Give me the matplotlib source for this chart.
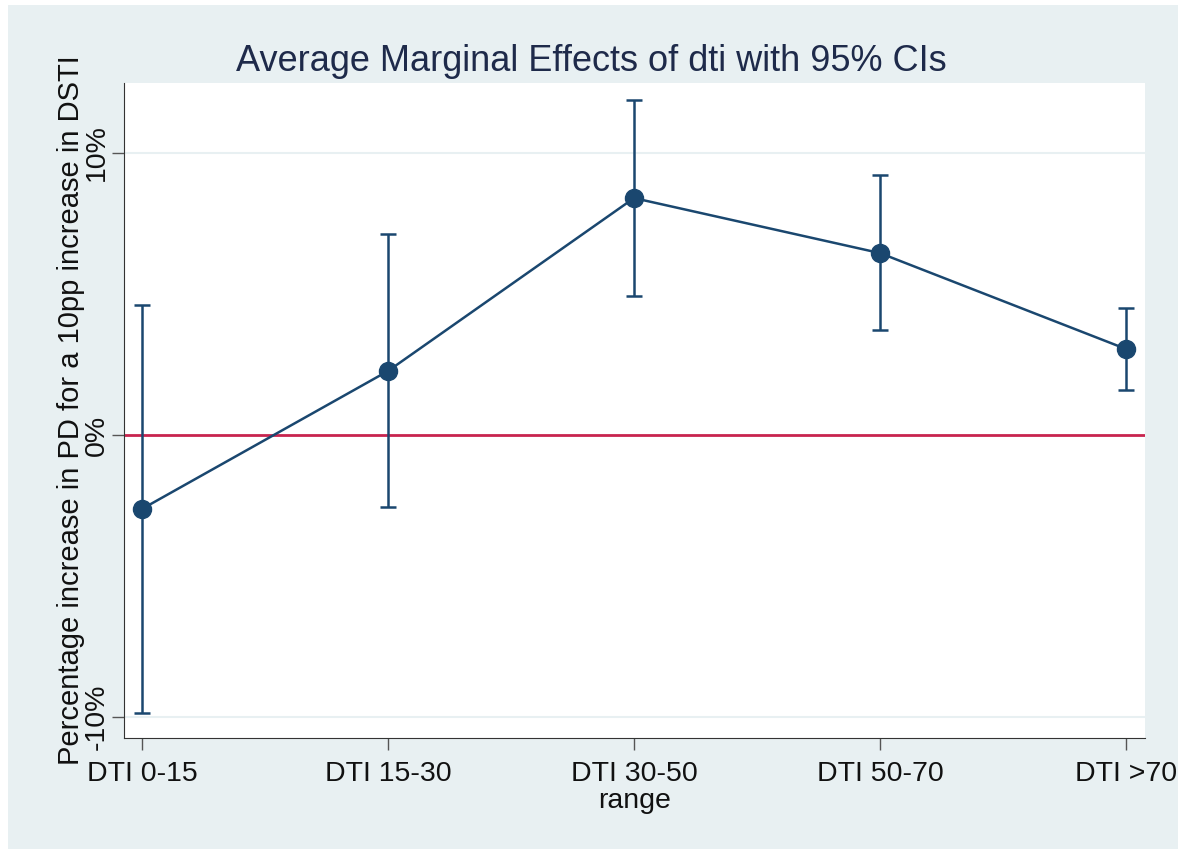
import matplotlib.pyplot as plt
import matplotlib.patches as mpatches
import numpy as np

plt.rcParams['font.family'] = ['Liberation Sans', 'DejaVu Sans']

categories = ["DTI 0-15", "DTI 15-30", "DTI 30-50", "DTI 50-70", "DTI >70"]
effect = [-2.62, 2.27, 8.40, 6.45, 3.05]
ci_low = [-9.86, -2.55, 4.93, 3.72, 1.60]
ci_high = [4.60, 7.13, 11.88, 9.22, 4.50]

navy = "#1a476f"
bg = "#e8f0f2"

fig = plt.figure(figsize=(11.78, 8.49), dpi=100)
fig.patch.set_facecolor("white")
fig.patches.append(mpatches.Rectangle((8/1178, 0), 1, 1 - 5/849, transform=fig.transFigure,
                                      facecolor=bg, edgecolor="none", zorder=-10))
ax = fig.add_axes([124/1178, 1 - 738/849, (1145 - 124)/1178, (738 - 83)/849])
ax.set_facecolor("white")

x = np.arange(len(categories))
y = np.array(effect)
err = [y - np.array(ci_low), np.array(ci_high) - y]

for v in [10, -10]:
    ax.axhline(v, color=bg, lw=1.5, zorder=1)
ax.axhline(0, color="#c8244e", lw=2, zorder=2)
ax.errorbar(x, y, yerr=err, fmt="none", ecolor=navy, elinewidth=1.8, capsize=6, capthick=1.8, zorder=3)
ax.plot(x, y, "-o", color=navy, lw=1.8, markersize=13, zorder=4)

ax.set_xlim(-0.073, 4.077)
ax.set_ylim(-10.74, 12.48)
ax.set_yticks([-10, 0, 10])
ax.set_yticklabels(["-10%", "0%", "10%"], rotation=90, va="center")
ax.set_xticks(x)
ax.set_xticklabels(categories)
ax.tick_params(axis="both", length=8.5, width=1, color="#555555", labelsize=20.5, labelcolor="#111111")
ax.tick_params(axis="x", pad=8)
ax.tick_params(axis="y", pad=2)
for s in ["top", "right"]:
    ax.spines[s].set_visible(False)
for s in ["left", "bottom"]:
    ax.spines[s].set_color("#333333")

# title is centred on the whole figure, not on the plot area
fig.text(591/1178, 1 - 71/849, "Average Marginal Effects of dti with 95% CIs", fontsize=26,
         color="#1e2a4a", ha="center", va="baseline")
ax.set_xlabel("range", fontsize=20.5, labelpad=1, color="#111111")
ax.set_ylabel("Percentage increase in PD for a 10pp increase in DSTI", fontsize=21, labelpad=-1,
              color="#111111")

fig.savefig("out.png", dpi=100)
